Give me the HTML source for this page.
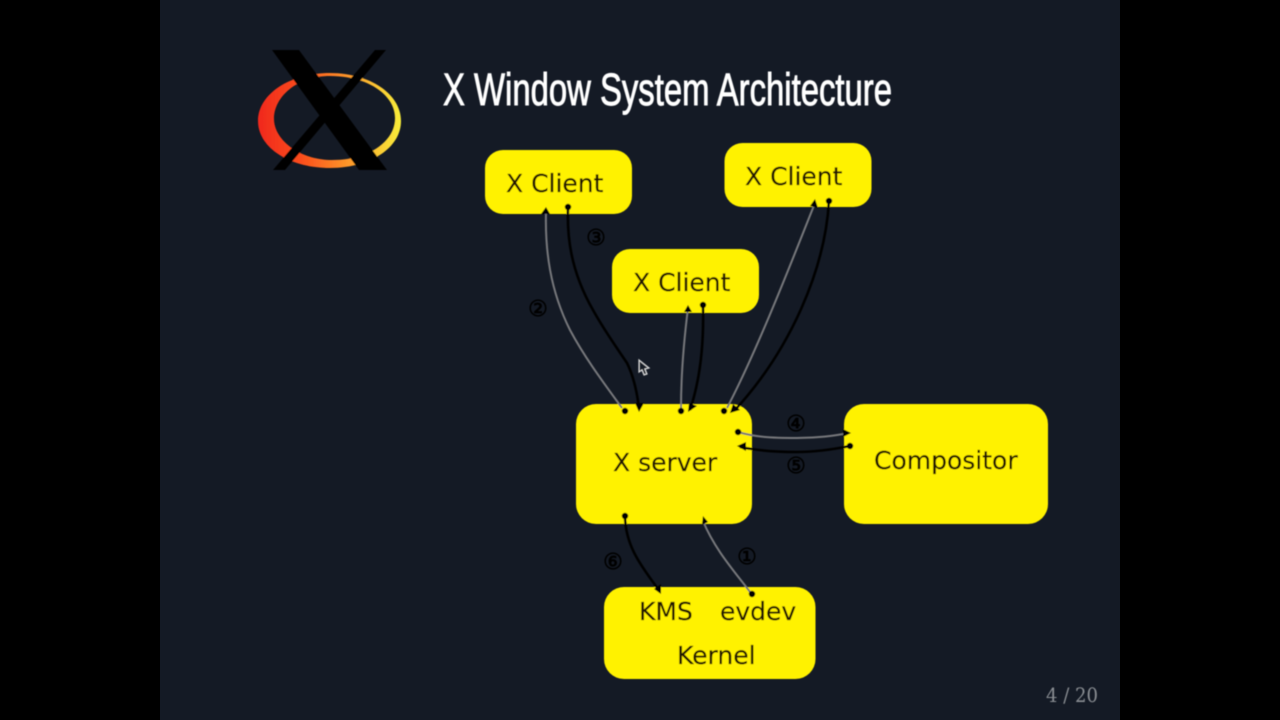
<!DOCTYPE html>
<html>
<head>
<meta charset="utf-8">
<style>
html,body{margin:0;padding:0;width:1280px;height:720px;overflow:hidden;background:#000}
svg{display:block}
text{font-family:"DejaVu Sans",sans-serif}
</style>
</head>
<body>
<svg width="1280" height="720" viewBox="0 0 1280 720" xmlns="http://www.w3.org/2000/svg">
<defs>
<linearGradient id="g" x1="0" y1="0" x2="1" y2="0">
<stop offset="0" stop-color="#f0281e"/>
<stop offset="0.3" stop-color="#fb4d1c"/>
<stop offset="0.65" stop-color="#fd9b2a"/>
<stop offset="1" stop-color="#f8ee3a"/>
</linearGradient>
<filter id="b" x="-2%" y="-2%" width="104%" height="104%"><feGaussianBlur stdDeviation="0.5"/></filter>
</defs>
<rect x="160" y="0" width="960" height="720" fill="#141a25"/>
<g filter="url(#b)">
<!-- logo -->
<path fill-rule="evenodd" fill="url(#g)" d="M258 121C258 94 290 73 330 73C370 73 401 94 401 121C401 148 370 168 330 168C290 168 258 148 258 121ZM274 119C274 140 300 160 332 160C368 160 395 142 395 118C395 95 368 76 330 76C298 76 274 96 274 119Z"/>
<polygon points="272,50 299,50 387,170 359,170" fill="#000"/>
<polygon points="375,50 386,50 285,170 273,170" fill="#000"/>

<text x="443" y="105" font-size="45" fill="#fff" stroke="#fff" stroke-width="0.9" textLength="449" lengthAdjust="spacingAndGlyphs" style="font-family:'Liberation Sans',sans-serif">X Window System Architecture</text>

<!-- boxes -->
<g fill="#fff200">
<rect x="485" y="150" width="147" height="64" rx="18"/>
<rect x="724.500" y="143" width="147" height="64" rx="18"/>
<rect x="612" y="249" width="147" height="64" rx="18"/>
<rect x="576" y="404" width="176" height="120" rx="20"/>
<rect x="844" y="404" width="204" height="120" rx="20"/>
<rect x="604" y="587" width="211.500" height="92" rx="20"/>
</g>
<g fill="#201500" font-size="25" stroke="#201500" stroke-width="0.2">
<text x="506" y="192">X Client</text>
<text x="745" y="185">X Client</text>
<text x="633" y="291">X Client</text>
<text x="613" y="471">X server</text>
<text x="874" y="469">Compositor</text>
<text x="639" y="620">KMS</text>
<text x="720" y="620">evdev</text>
<text x="677" y="664">Kernel</text>
</g>

<!-- grey connectors -->
<g fill="none" stroke="#77787c" stroke-width="2">
<path d="M546 212C545 250 550 290 570 330C585 358 603 382 622 408"/>
<path d="M688 308C684 340 681 375 681 408"/>
<path d="M815 203C800 240 760 345 727 408"/>
<path d="M738 432C755 437 770 438 797 438C815 438 835 436 848 433"/>
<path d="M703 521C715 550 735 572 750 592"/>
</g>
<!-- black connectors -->
<g fill="none" stroke="#000" stroke-width="2.6">
<path d="M568 208C567 235 570 270 593 310C604 330 617 348 627 363C633 375 637 392 639 408"/>
<path d="M703 306C704 345 700 380 690 410"/>
<path d="M829 201C825 270 790 350 735 410"/>
<path d="M850 446C830 450 815 452 797 452C775 452 755 450 740 447"/>
<path d="M625 517C626 550 645 570 660 592"/>
</g>
<!-- arrowheads -->
<g fill="#000">
<polygon points="546,207 541,214 550,214"/>
<polygon points="688,305 684,312 692,312"/>
<polygon points="815,199 810,206 818,208"/>
<polygon points="639,412 635,403 644,403"/>
<polygon points="688,412 689,403 697,406"/>
<polygon points="730,413 733,404 740,410"/>
<polygon points="851,433 843,429 843,437"/>
<polygon points="737,446 746,442 746,451"/>
<polygon points="703,516 702,525 708,522"/>
<polygon points="661,594 654,589 661,584"/>
<circle cx="568" cy="207" r="3.2"/>
<circle cx="703" cy="305" r="3.2"/>
<circle cx="829" cy="201" r="3.2"/>
<circle cx="625" cy="411" r="3.2"/>
<circle cx="681" cy="411" r="3.2"/>
<circle cx="724" cy="411" r="3.2"/>
<circle cx="738" cy="432" r="3.2"/>
<circle cx="850" cy="446" r="3.2"/>
<circle cx="625" cy="516" r="3.2"/>
<circle cx="752" cy="594" r="3.2"/>
</g>

<!-- numerals -->
<g fill="#000" stroke="#000" stroke-width="0.7" font-size="22" text-anchor="middle">
<text x="538" y="316">②</text>
<text x="596" y="245">③</text>
<text x="796" y="431">④</text>
<text x="796" y="473">⑤</text>
<text x="613" y="569">⑥</text>
<text x="747" y="564">①</text>
</g>

<!-- cursor -->
<path d="M639 360L639 372L642 370L644 375L647 374L645 369L649 368Z" fill="#141a25" stroke="#d8d8d8" stroke-width="1.2"/>

<text x="1046" y="702" font-size="20" fill="#8a8e93" textLength="52" lengthAdjust="spacingAndGlyphs" style="font-family:'DejaVu Serif',serif">4 / 20</text>
</g>
</svg>
</body>
</html>
